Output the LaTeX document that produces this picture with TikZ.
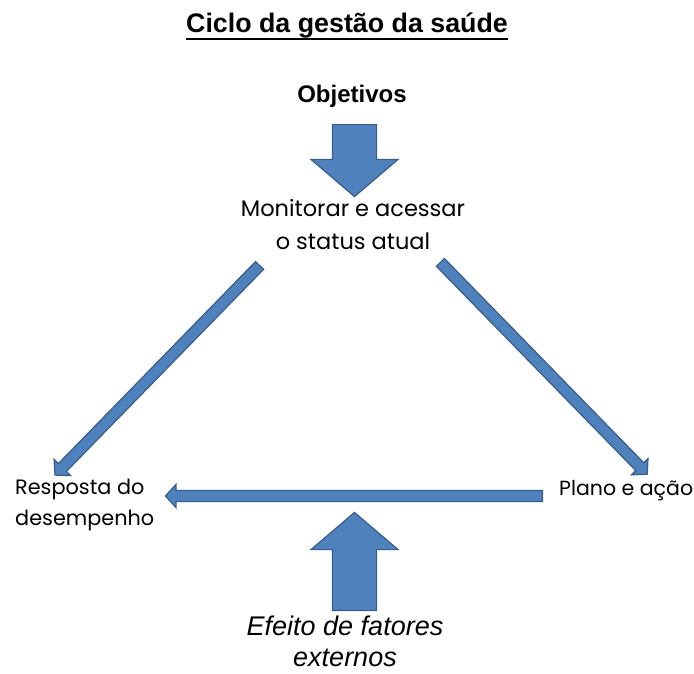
\documentclass[tikz,border=0pt]{standalone}
\usepackage{fontspec}
\setmainfont{Liberation Sans}
\newfontfamily\handfont{Poppins}
\usetikzlibrary{shapes.arrows}
\definecolor{arrowblue}{RGB}{79,129,189}
\definecolor{arrowedge}{RGB}{56,93,138}

\begin{document}
\begin{tikzpicture}[x=1pt, y=-1pt,
		arr/.style = {single arrow, draw=arrowedge, fill=arrowblue, line width=1.2pt, inner sep=0pt, single arrow head indent=0pt, anchor=tail},
		bigarrow/.style = {arr, inner ysep=21.5pt, single arrow head extend=21.5pt, single arrow tip angle=99},
		thinarrow/.style = {arr, inner ysep=5pt, single arrow head extend=6pt, single arrow tip angle=95},
		hand/.style = {font=\handfont\fontsize{22.5}{33}\selectfont, align=center, inner sep=0pt},
		lbl/.style = {inner sep=0pt}]
		\useasboundingbox (0,0) rectangle (694,673);
		% title and goals
		\node[lbl, anchor=base, font=\bfseries\fontsize{26.8}{32}\selectfont] (title) at (347,32) {Ciclo da gestão da saúde};
		\draw[line width=2.2pt] ([yshift=-7pt]title.base west) -- ([yshift=-7pt]title.base east);
		\node[lbl, anchor=base, font=\bfseries\fontsize{24}{29}\selectfont] (goals) at (352,102) {Objetivos};
		% the three steps
		\node[hand, anchor=north] (monitor) at (353,199) {Monitorar e acessar\\o status atual};
		\node[hand, anchor=north west, align=left, font=\handfont\fontsize{20.8}{31}\selectfont] (response) at (15,479) {Resposta do\\desempenho};
		\node[hand, anchor=north west, font=\handfont\fontsize{20.5}{31}\selectfont] (plan) at (559,480) {Plano e ação};
		\node[lbl, anchor=north, align=center, font=\itshape\fontsize{27}{31}\selectfont] (external) at (345,616) {Efeito de fatores\\externos};
		% block arrows
		\node[bigarrow, rotate=-90, minimum height=72pt] (goaldown) at (354.5,124) {};
		\node[bigarrow, rotate=90, minimum height=98pt] (extup) at (354.5,611) {};
		\node[thinarrow, rotate=180, minimum height=377pt] (planresp) at (543,496) {};
		\node[thinarrow, rotate=-134.3, minimum height=293pt] (monresp) at (260,265) {};
		\node[thinarrow, rotate=-45.7, minimum height=296pt] (monplan) at (440,262) {};
	\end{tikzpicture}
\end{document}
